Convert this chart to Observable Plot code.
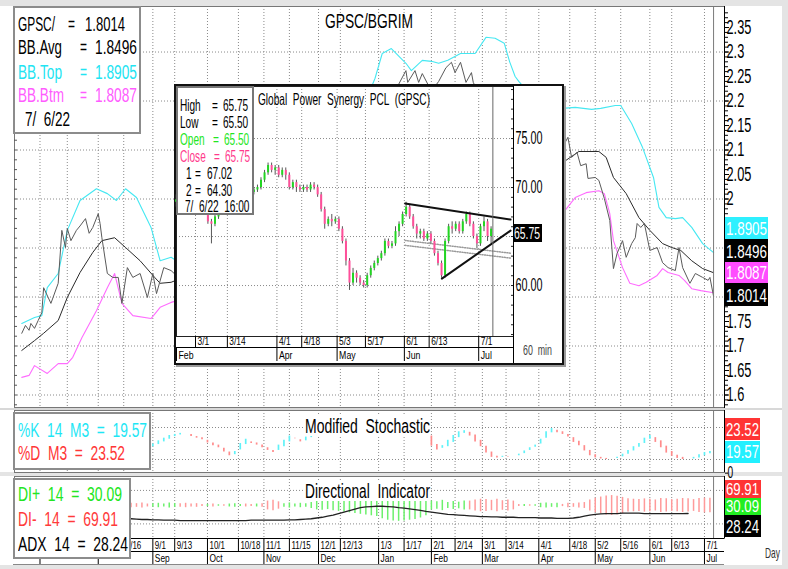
<!DOCTYPE html>
<html>
<head>
<meta charset="utf-8">
<script src="https://cdn.jsdelivr.net/npm/d3@7"></script>
<script src="https://cdn.jsdelivr.net/npm/@observablehq/plot@0.6"></script>
<style>
html,body{margin:0;padding:0;background:#fff;}
#page{position:relative;width:788px;height:569px;overflow:hidden;background:#fff;font-family:"Liberation Sans",Arial,sans-serif;}
#page div{box-sizing:border-box;}
</style>
</head>
<body>
<div id="page"></div>
<script>
// ================= DATA =================
// Main panel: GPSC/BGRIM daily ratio with Bollinger Bands
const mainDomain = ["2021-06-17", "2022-07-12"];
const lastDate = "2022-07-06";

const ratioDates = ["2021-06-21","2021-06-23","2021-06-25","2021-06-26","2021-06-28","2021-06-30","2021-07-02","2021-07-03","2021-07-07","2021-07-11","2021-07-13","2021-07-15","2021-07-16","2021-07-18","2021-07-21","2021-07-23","2021-07-26","2021-07-28","2021-07-30","2021-08-02","2021-08-03","2021-08-04","2021-08-07","2021-08-10","2021-08-13","2021-08-15","2021-08-18","2021-08-21","2021-08-25","2021-08-29","2021-09-01","2021-09-03","2021-09-07","2021-09-11",
 "2021-09-15","2021-09-22","2021-09-29","2021-10-06","2021-10-13","2021-10-20","2021-10-27","2021-11-03","2021-11-10","2021-11-17","2021-11-24","2021-12-01","2021-12-08","2021-12-15","2021-12-22","2021-12-29","2022-01-05","2022-01-12",
 "2022-01-18","2022-01-19","2022-01-23","2022-01-25","2022-01-27","2022-02-01","2022-02-05","2022-02-09","2022-02-12","2022-02-14","2022-02-17","2022-02-20","2022-02-23","2022-02-24",
 "2022-03-01","2022-03-08","2022-03-15","2022-03-22","2022-03-29","2022-04-05","2022-04-11",
 "2022-04-14","2022-04-17","2022-04-19","2022-04-22","2022-04-24","2022-04-27","2022-04-28","2022-05-02","2022-05-04","2022-05-07","2022-05-10","2022-05-12","2022-05-14","2022-05-17","2022-05-19","2022-05-22","2022-05-24","2022-05-25","2022-05-27","2022-05-29","2022-06-01","2022-06-05","2022-06-08","2022-06-11","2022-06-15","2022-06-17","2022-06-19","2022-06-23","2022-06-26","2022-06-30","2022-07-03","2022-07-04","2022-07-06"];
const ratioValues = [1.726,1.742,1.732,1.746,1.736,1.752,1.768,1.819,1.787,1.828,1.936,1.901,1.940,1.915,1.936,1.945,1.960,1.930,1.942,1.970,1.950,1.921,1.848,1.840,1.840,1.787,1.860,1.840,1.848,1.799,1.848,1.807,1.860,1.854,
 1.840,1.860,1.880,1.900,1.930,1.950,1.970,2.000,2.020,2.050,2.070,2.090,2.110,2.140,2.170,2.190,2.200,2.220,
 2.262,2.238,2.262,2.238,2.256,2.220,2.240,2.268,2.279,2.258,2.279,2.238,2.258,2.238,
 2.200,2.180,2.160,2.140,2.120,2.130,2.110,
 2.105,2.126,2.085,2.095,2.068,2.072,2.042,2.044,2.038,2.001,1.956,1.858,1.889,1.915,1.881,1.909,1.921,1.950,1.942,1.950,1.895,1.901,1.870,1.860,1.854,1.901,1.860,1.828,1.848,1.840,1.834,1.840,1.8014];

const bbTopDates = ["2021-06-21","2021-06-28","2021-07-02","2021-07-05","2021-07-11","2021-07-16","2021-07-23","2021-08-01","2021-08-07","2021-08-12","2021-08-17","2021-08-23","2021-08-31","2021-09-05","2021-09-11",
 "2021-09-20","2021-10-05","2021-10-20","2021-11-05","2021-11-20","2021-12-05","2021-12-20","2021-12-28",
 "2022-01-01","2022-01-05","2022-01-10","2022-01-18","2022-01-21","2022-01-27","2022-02-01","2022-02-05","2022-02-10","2022-02-17","2022-02-25","2022-03-03","2022-03-08","2022-03-13","2022-03-16","2022-03-19","2022-03-21",
 "2022-03-28","2022-04-05",
 "2022-04-14","2022-04-21","2022-04-30","2022-05-05","2022-05-13","2022-05-16","2022-05-22","2022-05-28","2022-06-03","2022-06-06","2022-06-10","2022-06-15","2022-06-19","2022-06-24","2022-06-30","2022-07-06"];
const bbTopValues = [1.746,1.758,1.762,1.819,1.848,1.936,1.997,2.021,2.011,1.997,2.021,2.003,1.942,1.874,1.881,
 1.860,1.900,1.950,2.000,2.060,2.120,2.180,2.210,
 2.246,2.297,2.307,2.277,2.262,2.283,2.281,2.277,2.283,2.297,2.297,2.330,2.328,2.318,2.280,2.250,2.240,
 2.210,2.190,
 2.185,2.187,2.183,2.185,2.191,2.191,2.154,2.105,2.044,1.983,1.962,1.960,1.962,1.942,1.909,1.8905];

const bbAvgDates = ["2021-06-21","2021-06-28","2021-07-03","2021-07-11","2021-07-16","2021-07-23","2021-07-30","2021-08-04","2021-08-11","2021-08-17","2021-08-25","2021-09-02","2021-09-05","2021-09-11",
 "2021-10-01","2021-10-15","2021-11-01","2021-11-15","2021-12-01","2021-12-15","2022-01-01","2022-01-15","2022-02-01","2022-02-15","2022-03-01","2022-03-15","2022-04-01",
 "2022-04-14","2022-04-23","2022-05-04","2022-05-08","2022-05-12","2022-05-19","2022-05-26","2022-06-01","2022-06-08","2022-06-13","2022-06-18","2022-06-24","2022-06-30","2022-07-06"];
const bbAvgValues = [1.691,1.711,1.726,1.752,1.799,1.850,1.891,1.915,1.921,1.901,1.874,1.840,1.828,1.830,
 1.860,1.900,1.950,1.990,2.040,2.080,2.130,2.170,2.200,2.210,2.210,2.190,2.120,
 2.074,2.097,2.097,2.085,2.044,2.011,1.962,1.936,1.909,1.901,1.895,1.874,1.858,1.8496];

const bbBtmDates = ["2021-06-21","2021-06-25","2021-06-28","2021-07-05","2021-07-11","2021-07-16","2021-07-19","2021-07-24","2021-08-01","2021-08-07","2021-08-11","2021-08-15","2021-08-21","2021-08-31","2021-09-05","2021-09-11",
 "2021-10-01","2021-10-15","2021-11-01","2021-11-15","2021-12-01","2021-12-15","2022-01-01","2022-01-15","2022-02-01","2022-02-15","2022-03-01","2022-03-15","2022-04-01",
 "2022-04-14","2022-04-21","2022-04-27","2022-05-04","2022-05-07","2022-05-10","2022-05-12","2022-05-17","2022-05-21","2022-05-26","2022-05-30","2022-06-05","2022-06-08","2022-06-11","2022-06-17","2022-06-20","2022-06-24","2022-06-29","2022-07-06"];
const bbBtmValues = [1.636,1.640,1.660,1.644,1.664,1.664,1.677,1.717,1.772,1.819,1.848,1.787,1.762,1.756,1.779,1.789,
 1.810,1.840,1.880,1.920,1.970,2.000,2.020,2.060,2.120,2.150,2.140,2.060,1.990,
 1.970,2.003,2.013,2.017,2.011,1.970,1.915,1.860,1.828,1.823,1.830,1.844,1.858,1.850,1.844,1.834,1.817,1.813,1.8087];

const mainYTickLabels = ["2.35","2.3","2.25","2.2","2.15","2.1","2.05","2","1.95","1.9","1.85","1.8","1.75","1.7","1.65","1.6"];
const mainLabelsUnderBoxes = ["1.95","1.9","1.85","1.8"]; // covered by the value boxes in the reference
const mainGridValues = [1.6,1.7,1.8,1.9,2.0,2.1,2.2,2.3];

const dayTickDates = ["2021-07-01","2021-07-16","2021-08-02","2021-08-16","2021-09-01","2021-09-13","2021-10-01","2021-10-18","2021-11-01","2021-11-15","2021-12-01","2021-12-13","2022-01-03","2022-01-17","2022-02-01","2022-02-14","2022-03-01","2022-03-14","2022-04-01","2022-04-18","2022-05-02","2022-05-16","2022-06-01","2022-06-13","2022-07-01"];
const dayTickLabels = ["7/1","7/16","8/2","8/16","9/1","9/13","10/1","10/18","11/1","11/15","12/1","12/13","1/3","1/17","2/1","2/14","3/1","3/14","4/1","4/18","5/2","5/16","6/1","6/13","7/1"];
const monthTickDates = ["2021-07-01","2021-08-02","2021-09-01","2021-10-01","2021-11-01","2021-12-01","2022-01-03","2022-02-01","2022-03-01","2022-04-01","2022-05-02","2022-06-01","2022-07-01"];
const monthTickLabels = ["Jul","Aug","Sep","Oct","Nov","Dec","Jan","Feb","Mar","Apr","May","Jun","Jul"];
const axisLabelsFrom = "2021-08-10"; // earlier labels sit under the DI legend box

const mainLegendRows = [
  [["GPSC/",18,37],["=",68,7],["1.8014",85,40]],
  [["BB.Avg",18,44],["=",80,7],["1.8496",95,42]],
  [["BB.Top",18,44],["=",80,7],["1.8905",95,42]],
  [["BB.Btm",18,46],["=",80,7],["1.8087",95,42]],
  [["7/  6/22",25,45]]];
const mainLegendColors = ["#000","#000","#22e4f2","#ff5cff","#000"];
const mainValueBoxes = [["1.8905","#2ef0ff"],["1.8496","#000"],["1.8087","#ff4dff"],["1.8014","#000"]];

// Inset: GPSC, one candle per trading session (index 0 = 21 Feb 2022)
const gpscOpen  = [68.5,68.75,68.25,68.0,68.5,68.0,68.25,68.0,68.25,67.75, 66.5,66.25,67.0,67.75,68.25,68.5,68.75,69.25,69.0,69.5, 69.25,69.75,69.5,69.75,70.0,70.75,71.5,72.25,71.75,72.0, 71.25,71.75,71.25,70.0,70.5,70.0,69.75,70.0,69.75,70.25, 70.0,69.25,67.75,66.25,66.75,66.5,66.75,65.75,64.5,62.5, 60.25,61.25,60.75,60.25,60.0,61.0,61.75,62.25,62.75,63.25, 64.5,64.0,64.25,65.5,66.25,67.25,68.0,67.0,66.0,65.25, 65.5,64.75,65.25,64.5,63.25,62.25,61.0,64.5,66.0,65.75, 66.25,65.5,66.5,67.25,66.25,65.0,64.25,66.0,66.5,65.0];
const gpscClose = [68.75,68.25,68.0,68.5,68.0,68.25,68.0,68.25,67.75,66.5, 66.25,67.0,67.75,68.25,68.5,68.75,69.25,69.0,69.5,69.25, 69.75,69.5,69.75,70.0,70.75,71.5,72.25,71.75,72.0,71.25, 71.75,71.25,70.0,70.5,70.0,69.75,70.0,69.75,70.25,70.0, 69.25,67.75,66.25,66.75,66.5,66.75,65.75,64.5,62.5,60.25, 61.25,60.75,60.25,60.0,61.0,61.75,62.25,62.75,63.25,64.5, 64.0,64.25,65.5,66.25,67.25,68.0,67.0,66.0,65.25,65.5, 64.75,65.25,64.5,63.25,62.25,61.0,64.5,66.0,65.75,66.25, 65.5,66.5,67.25,66.25,65.0,64.25,66.0,66.5,65.0,65.75];
const gpscHigh  = [69.25,69.0,68.75,68.75,68.75,68.5,68.5,68.5,68.5,68.0, 66.75,67.25,68.0,68.5,68.75,69.0,69.5,69.5,69.75,69.75, 70.0,70.0,70.0,70.25,71.0,71.75,72.5,72.5,72.25,72.25, 72.0,72.0,71.5,70.75,70.75,70.25,70.25,70.25,70.5,70.5, 70.25,69.5,68.0,67.0,67.25,67.0,67.0,66.0,64.75,62.75, 61.75,61.5,61.0,60.5,61.25,62.0,62.5,63.0,63.5,64.75, 64.75,64.5,66.0,66.5,67.5,68.5,68.25,67.25,66.25,65.75, 65.75,65.5,65.5,64.75,63.5,62.5,64.75,66.25,66.5,66.5, 66.5,66.75,67.5,67.5,66.5,65.25,66.25,67.0,66.75,66.0];
const gpscLow   = [68.0,67.75,67.5,67.75,67.75,67.75,67.75,67.75,67.5,66.25, 64.25,66.0,66.75,67.5,68.0,68.25,68.5,68.75,68.75,69.0, 69.0,69.25,69.25,69.5,69.75,70.5,71.25,71.5,71.25,71.0, 71.0,70.75,69.75,69.75,69.5,69.5,69.5,69.5,69.5,69.75, 69.0,67.5,65.75,66.0,66.0,66.25,65.5,64.25,62.0,59.5, 60.0,60.25,60.0,59.75,59.75,60.75,61.5,62.0,62.5,63.0, 63.75,63.75,64.0,65.0,66.0,67.0,66.75,65.75,64.75,64.75, 64.5,64.5,64.25,63.0,62.0,60.75,60.75,64.25,65.25,65.5, 65.25,65.25,66.25,66.0,64.75,63.75,64.0,65.5,64.5,64.25];
const insetDomain = [0.63, 95.83];
const insetLastIdx = 90;
const insetTickIdx = [6,15,29,36,46,54,65,72,86];
const insetTickLabels = ["3/1","3/14","4/1","4/18","5/3","5/17","6/1","6/13","7/1"];
const insetMonthIdx = [0.63,29,46,65,86];
const insetMonthLabels = ["Feb","Apr","May","Jun","Jul"];
const insetYTicks = [60,65,70,75];
const insetLabelUnderBox = 65; // hidden by the 65.75 last-price box
const trendUpper = {idx:[65.2,95.0], value:[68.37,66.73]};
const trendLower = {idx:[75.6,95.0], value:[60.71,65.6]};
const channel1 = {idx:[65.2,95.0], value:[64.6,63.3]};
const channel2 = {idx:[65.2,95.0], value:[64.1,62.8]};
const insetLegendRows = [
  [["High",180],["=",212],["65.75",223]],
  [["Low",180],["=",212],["65.50",223]],
  [["Open",180],["=",213],["65.50",224]],
  [["Close",180],["=",214],["65.75",225]],
  [["1",186],["=",195],["67.02",207]],
  [["2",186],["=",195],["64.30",207]],
  [["7/  6/22  16:00",185]]];
const insetLegendColors = ["#000","#000","#22e622","#ff3a8c","#000","#000","#000"];

// Oscillators: one sample every 3 calendar days starting 20 Aug 2021
const oscStart = "2021-08-20";
const oscStepDays = 3;
const stochK = [55,50,45,44, 49,55,60,65,67,69,68,63,60,57,51,46,42,34,27,35,50,58,50,47,42,37,33,47,56,64,59,53,62,75,83,88,92,94,93,90,88,90,93,95,94,92,90,92,94,92,90,88,86,82,70,45,38,46,56,65,72,74,64,53,44,32,24,23,26,24,25,30,36,42,47,58,72,78,70,67,62,52,46,36,27,23,21,20,21,24,30,37,44,50,60,65,52,42,32,26,22,20,21,24,29,33,35];
const stochD = [57,53,50,46, 44,48,53,58,63,66,68,67,63,61,56,51,47,41,34,29,38,48,53,51,47,42,37,37,44,53,60,57,55,61,72,81,87,91,93,92,90,89,90,92,94,93,92,91,92,93,92,90,88,86,80,64,48,41,44,52,61,69,71,66,56,45,34,26,24,25,25,27,31,37,43,49,60,70,75,72,67,61,54,46,37,29,24,22,21,22,25,30,36,43,50,58,61,55,45,35,28,24,21,21,23,27,31];
const stochGrid = [20,80];
const stochLegendRows = [["%K  14  M3  =  19.57",129,437],["%D  M3  =  23.52",107,460]];
const stochLegendColors = ["#1ee6f5","#ff3636"];
const diPlus  = [44,45,43,46, 55,56,54,57,55, 45,44,46,45,47, 53,46,52,48,54, 55,53,46,47,54,45, 38,36,40, 55,57,54,56,55,58, 62,63,61,64, 66,68,70,72,74,76,78,80, 86,90,92,93,92,90,88,84,78, 62,60,64,58,61,59,62, 38,35,33,34,36,33,37,35,38, 47,53,48,52, 56,57,55,56, 47,44,45,43,42, 35,30,27,24,23,25,28,32, 33,34,32,33,35,31,32,34,33,31,32,34,31,30,30.09];
const diMinus = [56,55,57,54, 45,44,46,43,45, 55,56,54,55,53, 47,54,48,52,46, 45,47,54,53,46,55, 62,64,60, 45,43,46,44,45,42, 38,37,39,36, 34,32,30,28,26,24,22,20, 14,10,8,7,8,10,12,16,22, 38,40,36,42,39,41,38, 62,65,67,66,64,67,63,65,62, 53,47,52,48, 44,43,45,44, 53,56,55,57,58, 65,70,73,76,77,75,72,68, 67,66,68,67,65,69,68,66,67,69,68,66,69,70,69.91];
const adx = [14,13,12,12, 11,11,10,10,10,9,9,9,9,9,9,9,9,9,9,9,9,9,10,10,10,10,10,10,10,11,11, 12,13,14,16,18,21,24,28,32,36,40, 44,46,47,48,48,47,46, 44,43,41,39,37,34,32,30,28, 26,25,24,23, 22,21,20,20,19,19,18,18,18,17,17,17, 17,16, 16,16,15,15,15,16, 18,21,24,26,27,28, 28,28,29,29,29,29,28,28,28,28,28,28,28,28,28.24];
const diGrid = [0,91];
const diLegendRows = [["DI+  14  =  30.09",104,501],["DI-  14  =  69.91",100,526],["ADX  14  =  28.24",110,551]];
const diLegendColors = ["#22e622","#ff3a3a","#000"];

// ================= RENDER =================
const FONT = '"Liberation Sans",Arial,sans-serif';
const parse = d3.utcParse("%Y-%m-%d");
const page = document.getElementById("page");
function el(css, html){ const e=document.createElement("div"); e.style.cssText="position:absolute;"+css; if(html!=null) e.innerHTML=html; page.appendChild(e); return e; }
function put(svg, left, top, k){ svg.style.position="absolute"; svg.style.left=left+"px"; svg.style.top=top+"px"; page.appendChild(svg); if(k) condense(svg,k); return svg; }
// narrow the svg texts to the condensed face of the reference
function condense(svg, k){ svg.querySelectorAll("text").forEach(t=>{ const L=t.getComputedTextLength(); if(L>0){ t.setAttribute("textLength", (L*k).toFixed(2)); t.setAttribute("lengthAdjust","spacingAndGlyphs"); } }); }
// text placed by left x and baseline, squeezed to a given width (or factor)
function txt(x, base, text, fs, color, w, opt={}){
  const d=document.createElement("div");
  d.style.cssText=`position:absolute;left:${x}px;top:${(base-0.8465*fs).toFixed(1)}px;font-size:${fs}px;line-height:${fs}px;white-space:pre;color:${color};`;
  const s=document.createElement("span");
  s.style.cssText="display:inline-block;transform-origin:0 0;"+(opt.bg?`background:${opt.bg};`:"");
  s.textContent=text; d.appendChild(s); page.appendChild(d);
  const nat=s.getBoundingClientRect().width;
  const k = w ? w/nat : (opt.k||0.66);
  s.style.transform=`scaleX(${k.toFixed(4)})`;
  return d;
}
const series = (dates, vals) => dates.map((d,i)=>({date:parse(d), value:vals[i]}));
const xMain = {type:"utc", domain: mainDomain.map(parse), axis:null};
const ML = 14, MR = 64, W = 788;
const dayTicks = dayTickDates.map(parse);
const last = parse(lastDate);
const dotted = {stroke:"#8a8a8a", strokeDasharray:"1 2", strokeWidth:1};
const baseStyle = {background:"transparent", fontFamily:FONT, color:"#000", overflow:"visible"};

// page background pieces
el("left:0;top:0;width:788px;height:6px;background:#e4e4e4;");
el("left:0;top:408px;width:788px;height:2px;background:#d8d8d8;");
el("left:0;top:472px;width:788px;height:4px;background:#e4e4e4;");
el("left:0;top:565px;width:788px;height:4px;background:#e4e4e4;");
el("left:782px;top:0;width:6px;height:569px;background:#e4e4e4;");

// ---- main panel
const mainTickNums = mainYTickLabels.map(Number);
const mainShownTicks = mainYTickLabels.filter(t=>!mainLabelsUnderBoxes.includes(t)).map(Number);
put(Plot.plot({
  width: W, height: 402, marginLeft: ML, marginRight: MR, marginTop: 0, marginBottom: 1,
  x: xMain, y: {domain:[1.5745, 2.3929], axis:null, label:null},
  style: baseStyle,
  marks: [
    Plot.ruleY(mainGridValues, dotted),
    Plot.ruleX(dayTicks, dotted),
    Plot.line(series(bbTopDates, bbTopValues), {x:"date", y:"value", stroke:"#45e8f2", strokeWidth:1.1}),
    Plot.line(series(bbBtmDates, bbBtmValues), {x:"date", y:"value", stroke:"#ff6cff", strokeWidth:1.1}),
    Plot.line(series(bbAvgDates, bbAvgValues), {x:"date", y:"value", stroke:"#2a2a2a", strokeWidth:1}),
    Plot.line(series(ratioDates, ratioValues), {x:"date", y:"value", stroke:"#5a5a5a", strokeWidth:1}),
    Plot.ruleX([last], {stroke:"#7a7a7a"}),
    Plot.frame({stroke:"#777"}),
    Plot.axisY({anchor:"right", label:null, ticks: d3.range(1.58, 2.39, 0.01), tickSize:3, tickFormat:()=>"", stroke:"#000"}),
    Plot.axisY({anchor:"left", label:null, ticks: d3.range(1.58, 2.39, 0.02), tickSize:-3, tickFormat:()=>"", stroke:"#555"}),
    Plot.axisY({anchor:"right", label:null, ticks: mainTickNums, tickSize:4, tickFormat:()=>"", stroke:"#000"}),
    Plot.axisY({anchor:"right", label:null, ticks: mainShownTicks, tickSize:0, tickPadding:2,
      tickFormat: d => mainYTickLabels[mainTickNums.indexOf(d)], fontSize:20})
  ]
}), 0, 6, 0.64);
el("left:"+(W-MR)+"px;top:6px;width:1px;height:402px;background:#000;");

txt(325, 28, "GPSC/BGRIM", 21, "#000", 88);

// main legend
el("left:13px;top:6px;width:128px;height:128px;background:#fff;border:2px solid #8c8c8c;");
const mainBase = [31,54,79,102,126];
mainLegendRows.forEach((row,r)=>row.forEach(([t,x,w])=>txt(x, mainBase[r], t, 20, mainLegendColors[r], w)));

// main value boxes
const mvTops=[217,239,262,283], mvH=[22,23,21,23];
mainValueBoxes.forEach(([t,c],i)=>{
  el(`left:725px;top:${mvTops[i]}px;width:43px;height:${mvH[i]}px;background:${c};`);
  txt(726, mvTops[i]+mvH[i]-4, t, 19, "#fff", 41);
});

// ---- inset (GPSC 60 min)
el("left:174px;top:84px;width:390px;height:281px;background:#fff;border:2px solid #111;box-shadow:2px 2px 0 #9a9a9a;");
const candles = gpscOpen.map((o,i)=>({i: i+0.5, open:o, close:gpscClose[i], high:gpscHigh[i], low:gpscLow[i]}));
const tl = t => t.idx.map((x,i)=>({i:x, value:t.value[i]}));
const xInset = {type:"linear", domain: insetDomain, axis:null};
put(Plot.plot({
  width: 386, height: 250, marginLeft:0, marginRight:49, marginTop:0, marginBottom:0,
  x: xInset, y:{domain:[54.80, 80.31], axis:null, label:null},
  style: baseStyle,
  marks: [
    Plot.ruleY(insetYTicks, dotted),
    Plot.ruleX(insetTickIdx, dotted),
    Plot.line(tl(channel1), {x:"i", y:"value", stroke:"#9a9a9a", strokeDasharray:"1 1.5"}),
    Plot.line(tl(channel2), {x:"i", y:"value", stroke:"#9a9a9a", strokeDasharray:"1 1.5"}),
    Plot.ruleX(candles, {x:"i", y1:"low", y2:"high", stroke:"#444", strokeWidth:0.9}),
    Plot.ruleX(candles, {x:"i", y1:"open", y2:"close", stroke: d => d.close >= d.open ? "#22d622" : "#ff4f9a", strokeWidth:2}),
    Plot.line(tl(trendUpper), {x:"i", y:"value", stroke:"#111", strokeWidth:2}),
    Plot.line(tl(trendLower), {x:"i", y:"value", stroke:"#111", strokeWidth:2}),
    Plot.ruleX([insetLastIdx], {stroke:"#666"}),
    Plot.frame({stroke:"#222"}),
    Plot.axisY({anchor:"right", label:null, ticks: d3.range(55, 81, 1), tickSize:-3, tickFormat:()=>"", stroke:"#222"}),
    Plot.axisY({anchor:"right", label:null, ticks: insetYTicks.filter(v=>v!==insetLabelUnderBox), tickSize:0, tickPadding:2, tickFormat: d3.format(".2f"), fontSize:18})
  ]
}), 176, 86, 0.6);
put(Plot.plot({
  width: 386, height: 11, marginLeft:0, marginRight:49, marginTop:0, marginBottom:0, x: xInset, style: baseStyle,
  marks: [Plot.ruleX(insetTickIdx, {stroke:"#000"}),
          Plot.text(insetTickIdx, {x: d=>d, text:(d,i)=>insetTickLabels[i], textAnchor:"start", dx:2, fontSize:10.5, frameAnchor:"middle"})]
}), 176, 336, 0.8);
el("left:176px;top:347px;width:337px;height:1px;background:#000;");
put(Plot.plot({
  width: 386, height: 13, marginLeft:0, marginRight:49, marginTop:0, marginBottom:0, x: xInset, style: baseStyle,
  marks: [Plot.ruleX(insetMonthIdx, {stroke:"#000"}),
          Plot.text(insetMonthIdx, {x: d=>d, text:(d,i)=>insetMonthLabels[i], textAnchor:"start", dx:2, fontSize:11.5, frameAnchor:"middle"})]
}), 176, 348, 0.76);
el("left:513px;top:86px;width:1px;height:277px;background:#000;");
txt(258, 105, "Global  Power  Synergy  PCL  (GPSC)", 16.5, "#000", 172);
el("left:513px;top:224px;width:29px;height:18px;background:#000;");
txt(514, 239, "65.75", 17, "#fff", 26);
txt(523, 355, "60  min", 15, "#444", 29);
el("left:176px;top:86px;width:78px;height:129px;background:#fff;border:2px solid #777;");
const insBase = [111,128,145,162,179,196,212];
insetLegendRows.forEach((row,r)=>row.forEach(([t,x])=>txt(x, insBase[r], t, 16, insetLegendColors[r], null, {k:0.63})));

// ---- oscillator panels
const oscDates = stochK.map((_,i)=> d3.utcDay.offset(parse(oscStart), i*oscStepDays));
const stoch = stochK.map((k,i)=>({date:oscDates[i], k, d:stochD[i]}));
put(Plot.plot({
  width: W, height: 62, marginLeft: ML, marginRight: MR, marginTop:0, marginBottom:0,
  x: xMain, y:{domain:[-4.4, 111.9], axis:null, label:null}, style: baseStyle,
  marks: [
    Plot.ruleY(stochGrid, dotted),
    Plot.ruleX(dayTicks, dotted),
    Plot.ruleX(stoch, {x:"date", y1:"d", y2:"k", stroke: d => d.k >= d.d ? "#5ff2f8" : "#ff8c8c", strokeWidth:1.7}),
    Plot.ruleX([last], {stroke:"#7a7a7a"}),
    Plot.frame({stroke:"#777"}),
    Plot.axisY({anchor:"right", label:null, ticks:[0], tickSize:3, tickPadding:0, fontSize:16, dy:3})
  ]
}), 0, 410, 0.64);
el("left:"+(W-MR)+"px;top:410px;width:1px;height:62px;background:#000;");
txt(305, 433, "Modified  Stochastic", 20, "#000", 125, {bg:"#fff"});
el("left:13px;top:412px;width:138px;height:58px;background:#fff;border:2px solid #8c8c8c;");
stochLegendRows.forEach(([t,w,b],r)=>txt(18, b, t, 20, stochLegendColors[r], w));
el("left:725px;top:418px;width:35px;height:22px;background:#ff3434;");
txt(726, 436, "23.52", 19, "#fff", 33);
el("left:725px;top:441px;width:35px;height:22px;background:#22f0ff;");
txt(726, 458, "19.57", 18, "#fff", 33);

const di = diPlus.map((p,i)=>({date:oscDates[i], plus:p, minus:diMinus[i], adx:adx[i]}));
put(Plot.plot({
  width: W, height: 62, marginLeft: ML, marginRight: MR, marginTop:0, marginBottom:0,
  x: xMain, y:{domain:[-39.7, 128.8], axis:null, label:null}, style: baseStyle,
  marks: [
    Plot.ruleY(diGrid, dotted),
    Plot.ruleX(dayTicks, dotted),
    Plot.ruleX(di, {x:"date", y1:"minus", y2:"plus", stroke: d => d.plus >= d.minus ? "#6cf06c" : "#ff9a9a", strokeWidth:1.5}),
    Plot.line(di, {x:"date", y:"adx", stroke:"#222", strokeWidth:1.3}),
    Plot.ruleX([last], {stroke:"#7a7a7a"}),
    Plot.frame({stroke:"#777"})
  ]
}), 0, 476);
el("left:"+(W-MR)+"px;top:476px;width:1px;height:62px;background:#000;");
txt(305, 498, "Directional  Indicator", 20, "#000", 125, {bg:"#fff"});

// day axis rows
const fromD = parse(axisLabelsFrom);
const dayLab = dayTicks.map((d,i)=>({d, t:dayTickLabels[i]})).filter(o=>o.d>=fromD);
const monTicks = monthTickDates.map(parse);
const monLab = monTicks.map((d,i)=>({d, t:monthTickLabels[i]})).filter(o=>o.d>=fromD);
put(Plot.plot({
  width: W, height: 12, marginLeft: ML, marginRight: MR, marginTop:0, marginBottom:0, x: xMain, style: baseStyle,
  marks: [Plot.ruleX(dayTicks, {stroke:"#000"}),
          Plot.text(dayLab, {x:"d", text:"t", textAnchor:"start", dx:2, fontSize:10.5, frameAnchor:"middle"})]
}), 0, 539, 0.76);
el("left:13px;top:538px;width:711px;height:1px;background:#000;");
el("left:13px;top:551px;width:711px;height:1px;background:#000;");
put(Plot.plot({
  width: W, height: 12, marginLeft: ML, marginRight: MR, marginTop:0, marginBottom:0, x: xMain, style: baseStyle,
  marks: [Plot.ruleX(monTicks, {stroke:"#000"}),
          Plot.text(monLab, {x:"d", text:"t", textAnchor:"start", dx:2, fontSize:11, frameAnchor:"middle"})]
}), 0, 552, 0.76);
el("left:13px;top:564px;width:711px;height:1px;background:#888;");
txt(765, 558, "Day", 15, "#333", 15);

el("left:13px;top:478px;width:118px;height:81px;background:#fff;border:2px solid #8c8c8c;");
diLegendRows.forEach(([t,w,b],r)=>txt(18, b, t, 20, diLegendColors[r], w));
el("left:725px;top:480px;width:36px;height:18px;background:#ff3434;");
txt(726, 495, "69.91", 16.5, "#fff", 33);
el("left:725px;top:498px;width:36px;height:17px;background:#22ee22;");
txt(726, 512, "30.09", 16, "#fff", 33);
el("left:725px;top:515px;width:36px;height:22px;background:#000;");
txt(726, 533, "28.24", 19, "#fff", 33);
</script>
</body>
</html>
